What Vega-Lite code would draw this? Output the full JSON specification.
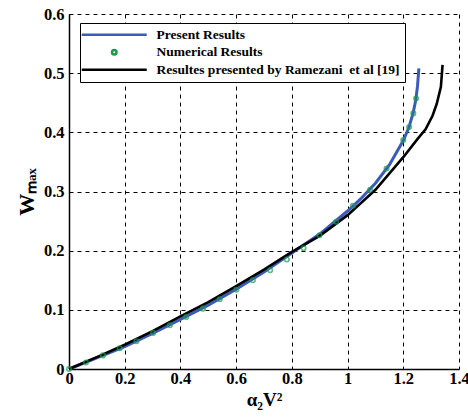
{
  "$schema": "https://vega.github.io/schema/vega-lite/v6.json",
  "width": 390,
  "height": 355,
  "autosize": {"type": "none"},
  "padding": {"left": 69, "top": 14, "right": 9, "bottom": 48},
  "background": "white",
  "config": {
    "view": {"stroke": null},
    "font": "Liberation Serif",
    "axis": {
      "grid": true,
      "gridColor": "#000000",
      "gridDash": [4, 4],
      "gridOpacity": 1,
      "gridWidth": 1,
      "domainColor": "#000000",
      "domainWidth": 1.5,
      "tickColor": "#000000",
      "tickSize": 0,
      "labelFont": "Liberation Serif",
      "labelFontWeight": "bold",
      "labelFontSize": 16.5,
      "labelColor": "#000000",
      "titleFont": "Liberation Serif",
      "titleFontWeight": "bold",
      "titleColor": "#000000"
    }
  },
  "data": {
    "values": [
      {"series": "Present Results", "x": 0, "y": 0},
      {"series": "Present Results", "x": 0.1, "y": 0.019},
      {"series": "Present Results", "x": 0.2, "y": 0.038},
      {"series": "Present Results", "x": 0.3, "y": 0.06},
      {"series": "Present Results", "x": 0.4, "y": 0.084},
      {"series": "Present Results", "x": 0.5, "y": 0.108},
      {"series": "Present Results", "x": 0.6, "y": 0.135},
      {"series": "Present Results", "x": 0.7, "y": 0.164},
      {"series": "Present Results", "x": 0.8, "y": 0.196},
      {"series": "Present Results", "x": 0.9, "y": 0.228},
      {"series": "Present Results", "x": 1.0, "y": 0.267},
      {"series": "Present Results", "x": 1.05, "y": 0.289},
      {"series": "Present Results", "x": 1.1, "y": 0.314},
      {"series": "Present Results", "x": 1.15, "y": 0.345},
      {"series": "Present Results", "x": 1.2, "y": 0.386},
      {"series": "Present Results", "x": 1.22, "y": 0.408},
      {"series": "Present Results", "x": 1.235, "y": 0.432},
      {"series": "Present Results", "x": 1.245, "y": 0.455},
      {"series": "Present Results", "x": 1.251, "y": 0.478},
      {"series": "Present Results", "x": 1.256, "y": 0.508},
      {"series": "Resultes presented by Ramezani\u00a0 et al [19]", "x": 0, "y": 0},
      {"series": "Resultes presented by Ramezani\u00a0 et al [19]", "x": 0.1, "y": 0.02},
      {"series": "Resultes presented by Ramezani\u00a0 et al [19]", "x": 0.2, "y": 0.041},
      {"series": "Resultes presented by Ramezani\u00a0 et al [19]", "x": 0.3, "y": 0.064},
      {"series": "Resultes presented by Ramezani\u00a0 et al [19]", "x": 0.4, "y": 0.089},
      {"series": "Resultes presented by Ramezani\u00a0 et al [19]", "x": 0.5, "y": 0.113},
      {"series": "Resultes presented by Ramezani\u00a0 et al [19]", "x": 0.6, "y": 0.14},
      {"series": "Resultes presented by Ramezani\u00a0 et al [19]", "x": 0.7, "y": 0.168},
      {"series": "Resultes presented by Ramezani\u00a0 et al [19]", "x": 0.8, "y": 0.198},
      {"series": "Resultes presented by Ramezani\u00a0 et al [19]", "x": 0.9, "y": 0.225},
      {"series": "Resultes presented by Ramezani\u00a0 et al [19]", "x": 1.0, "y": 0.26},
      {"series": "Resultes presented by Ramezani\u00a0 et al [19]", "x": 1.1, "y": 0.303},
      {"series": "Resultes presented by Ramezani\u00a0 et al [19]", "x": 1.2, "y": 0.358},
      {"series": "Resultes presented by Ramezani\u00a0 et al [19]", "x": 1.25, "y": 0.388},
      {"series": "Resultes presented by Ramezani\u00a0 et al [19]", "x": 1.28, "y": 0.405},
      {"series": "Resultes presented by Ramezani\u00a0 et al [19]", "x": 1.305, "y": 0.428},
      {"series": "Resultes presented by Ramezani\u00a0 et al [19]", "x": 1.32, "y": 0.448},
      {"series": "Resultes presented by Ramezani\u00a0 et al [19]", "x": 1.335, "y": 0.477},
      {"series": "Resultes presented by Ramezani\u00a0 et al [19]", "x": 1.341, "y": 0.514},
      {"series": "Numerical Results", "x": 0, "y": 0},
      {"series": "Numerical Results", "x": 0.061, "y": 0.011},
      {"series": "Numerical Results", "x": 0.122, "y": 0.023},
      {"series": "Numerical Results", "x": 0.182, "y": 0.035},
      {"series": "Numerical Results", "x": 0.242, "y": 0.047},
      {"series": "Numerical Results", "x": 0.302, "y": 0.061},
      {"series": "Numerical Results", "x": 0.362, "y": 0.074},
      {"series": "Numerical Results", "x": 0.421, "y": 0.088},
      {"series": "Numerical Results", "x": 0.481, "y": 0.102},
      {"series": "Numerical Results", "x": 0.541, "y": 0.118},
      {"series": "Numerical Results", "x": 0.601, "y": 0.134},
      {"series": "Numerical Results", "x": 0.66, "y": 0.15},
      {"series": "Numerical Results", "x": 0.722, "y": 0.167},
      {"series": "Numerical Results", "x": 0.782, "y": 0.185},
      {"series": "Numerical Results", "x": 0.842, "y": 0.204},
      {"series": "Numerical Results", "x": 0.899, "y": 0.226},
      {"series": "Numerical Results", "x": 0.959, "y": 0.249},
      {"series": "Numerical Results", "x": 1.019, "y": 0.276},
      {"series": "Numerical Results", "x": 1.081, "y": 0.303},
      {"series": "Numerical Results", "x": 1.14, "y": 0.339},
      {"series": "Numerical Results", "x": 1.2, "y": 0.387},
      {"series": "Numerical Results", "x": 1.221, "y": 0.409},
      {"series": "Numerical Results", "x": 1.236, "y": 0.432},
      {"series": "Numerical Results", "x": 1.246, "y": 0.457}
    ]
  },
  "encoding": {
    "x": {
      "field": "x",
      "type": "quantitative",
      "scale": {"domain": [0, 1.4], "nice": false, "zero": false},
      "axis": {
        "values": [0, 0.2, 0.4, 0.6, 0.8, 1, 1.2, 1.4],
        "title": "α₂V²",
        "titleFontSize": 19,
        "titlePadding": 4,
        "labelPadding": 1,
        "labelFlush": false,
        "labelExpr": "datum.value == 0 ? '0' : format(datum.value, '.1~f')"
      }
    },
    "y": {
      "field": "y",
      "type": "quantitative",
      "scale": {"domain": [0, 0.6], "nice": false, "zero": false},
      "axis": {
        "values": [0, 0.1, 0.2, 0.3, 0.4, 0.5, 0.6],
        "title": "Wₘₐₓ",
        "titleFontSize": 22,
        "titlePadding": 5,
        "labelPadding": 5,
        "labelFlush": false,
        "labelExpr": "datum.value == 0 ? '0' : format(datum.value, '.1f')"
      }
    },
    "color": {
      "field": "series",
      "type": "nominal",
      "scale": {
        "domain": ["Present Results", "Numerical Results", "Resultes presented by Ramezani\u00a0 et al [19]"],
        "range": ["#3a5cb8", "#1a9a4a", "#000000"]
      },
      "legend": {
        "title": null,
        "orient": "none",
        "legendX": 11,
        "legendY": 9,
        "strokeColor": "#000000",
        "fillColor": "#ffffff",
        "padding": 5,
        "symbolSize": 100,
        "symbolStrokeWidth": 2.5,
        "symbolOffset": 22.5,
        "labelOffset": 35.5,
        "rowPadding": 2.5,
        "labelFont": "Liberation Serif",
        "labelFontWeight": "bold",
        "labelFontSize": 13.5,
        "labelColor": "#000000",
        "labelLimit": 400,
        "encode": {
          "symbols": {
            "update": {
              "shape": {"signal": "datum.value === 'Numerical Results' ? 'M0.45,0A0.45,0.45,0,1,1,-0.45,0A0.45,0.45,0,1,1,0.45,0Z' : 'M-6.5,0H6.5'"},
              "fill": {"value": "transparent"},
              "stroke": {"scale": "color", "field": "value"}
            }
          }
        }
      }
    }
  },
  "layer": [
    {
      "transform": [{"filter": "datum.series === 'Present Results'"}],
      "mark": {"type": "line", "strokeWidth": 3}
    },
    {
      "transform": [{"filter": "indexof(datum.series, 'Ramezani') >= 0"}],
      "mark": {"type": "line", "strokeWidth": 2.6}
    },
    {
      "transform": [{"filter": "datum.series === 'Numerical Results'"}],
      "mark": {"type": "point", "shape": "circle", "filled": false, "size": 20, "strokeWidth": 1.6}
    }
  ]
}
